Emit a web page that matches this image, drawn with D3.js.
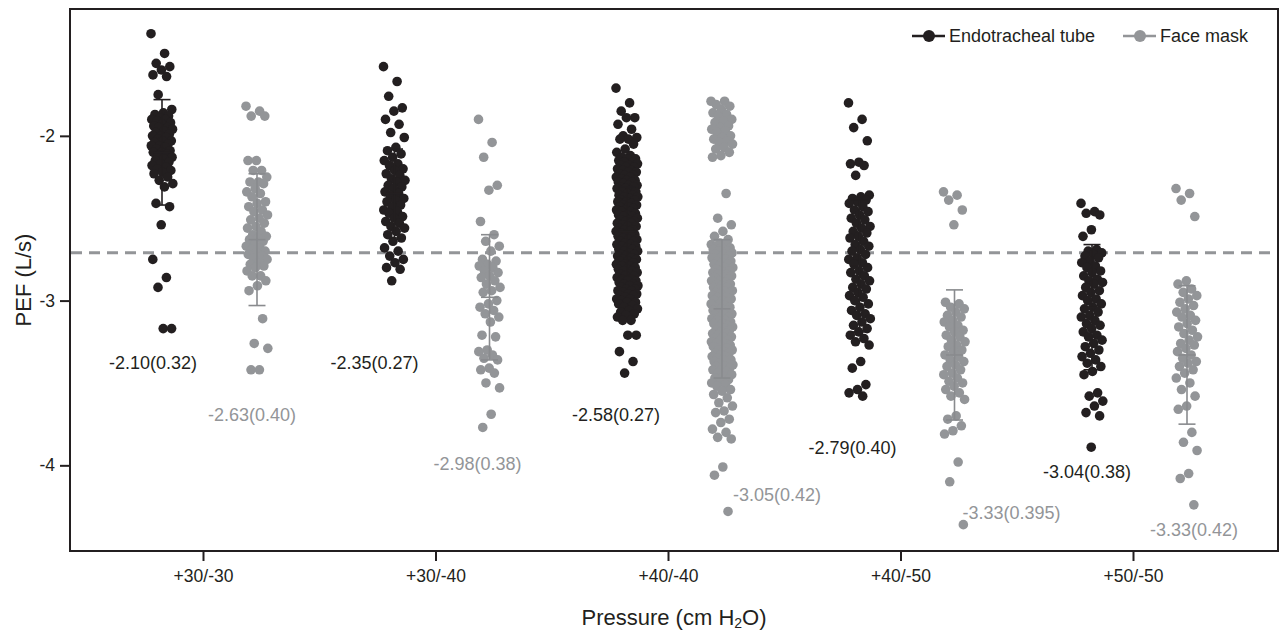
<!DOCTYPE html>
<html>
<head>
<meta charset="utf-8">
<script src="https://cdn.jsdelivr.net/npm/d3@7"></script>
<style>
  body { margin: 0; background: #fff; }
  text { font-family: "Liberation Sans", Arial, sans-serif; }
</style>
</head>
<body>
<div id="chart"></div>
<script>
// Categories and summary values
var pressures = ["+30/-30", "+30/-40", "+40/-40", "+40/-50", "+50/-50"];
var ettMean = [-2.10, -2.35, -2.58, -2.79, -3.04];
var ettSD = [0.32, 0.27, 0.27, 0.40, 0.38];
var fmMean = [-2.63, -2.98, -3.05, -3.33, -3.33];
var fmSD = [0.40, 0.38, 0.42, 0.395, 0.42];
var refLine = -2.71;

// Individual PEF values (L/s)
var ett3030 = [-1.38, -1.50, -1.56, -1.58, -1.60, -1.63, -1.64, -1.75,
  -1.84, -1.86, -1.87, -1.88, -1.89, -1.90, -1.90, -1.91, -1.92, -1.93, -1.94, -1.95, -1.95, -1.96,
  -1.97, -1.98, -1.99, -2.00, -2.00, -2.01, -2.02, -2.03, -2.03, -2.04, -2.05, -2.06, -2.06, -2.07,
  -2.08, -2.09, -2.10, -2.10, -2.11, -2.12, -2.13, -2.14, -2.15, -2.16, -2.17, -2.18, -2.19, -2.20,
  -2.21, -2.22, -2.23, -2.25, -2.27, -2.29, -2.31, -2.41, -2.43, -2.54, -2.75, -2.86, -2.92, -3.17, -3.17];
var fm3030 = [-1.82, -1.85, -1.88, -1.88, -2.15, -2.15, -2.21, -2.21, -2.25, -2.28, -2.28, -2.29,
  -2.32, -2.34, -2.35, -2.37, -2.40, -2.41, -2.43, -2.45, -2.46, -2.48, -2.50, -2.51, -2.53, -2.55,
  -2.56, -2.58, -2.60, -2.61, -2.62, -2.63, -2.64, -2.66, -2.67, -2.68, -2.69, -2.70, -2.71, -2.72,
  -2.73, -2.74, -2.75, -2.77, -2.78, -2.79, -2.80, -2.82, -2.85, -2.85, -2.88, -2.91, -2.94, -3.11,
  -3.26, -3.29, -3.42, -3.42];
var ett3040 = [-1.58, -1.67, -1.76, -1.83, -1.85, -1.90, -1.93, -1.98, -2.01,
  -2.07, -2.09, -2.11, -2.13, -2.15, -2.17, -2.18, -2.20, -2.21, -2.23, -2.24, -2.26, -2.27, -2.28,
  -2.30, -2.31, -2.32, -2.34, -2.35, -2.36, -2.38, -2.39, -2.40, -2.42, -2.43, -2.45, -2.46, -2.47,
  -2.49, -2.50, -2.52, -2.53, -2.55, -2.56, -2.58, -2.60, -2.62, -2.64,
  -2.68, -2.70, -2.73, -2.75, -2.77, -2.80, -2.81, -2.88];
var fm3040 = [-1.90, -2.04, -2.13, -2.30, -2.33, -2.52, -2.60, -2.64, -2.67, -2.70, -2.75, -2.76,
  -2.78, -2.79, -2.80, -2.82, -2.83, -2.85, -2.86, -2.88, -2.90, -2.92, -2.94, -2.95, -3.00, -3.02,
  -3.04, -3.06, -3.08, -3.10, -3.13, -3.21, -3.22, -3.30, -3.31, -3.33, -3.35, -3.36, -3.41, -3.42,
  -3.44, -3.50, -3.53, -3.69, -3.77];
var ett4040 = [-1.71, -1.80, -1.85, -1.89, -1.89, -1.93, -1.96, -2.00, -2.01, -2.02, -2.02, -2.05,
  -2.08, -2.10, -2.12,
  -2.13, -2.14, -2.14, -2.15, -2.16, -2.16, -2.17, -2.18, -2.18, -2.19, -2.19, -2.20, -2.21, -2.21, -2.22, -2.22, -2.23,
  -2.24, -2.24, -2.25, -2.25, -2.26, -2.27, -2.27, -2.28, -2.28, -2.29, -2.30, -2.30, -2.31, -2.31, -2.32, -2.32, -2.33,
  -2.34, -2.34, -2.35, -2.36, -2.36, -2.37, -2.37, -2.38, -2.39, -2.39, -2.40, -2.40, -2.41, -2.42, -2.42, -2.43, -2.43,
  -2.44, -2.45, -2.45, -2.46, -2.46, -2.47, -2.48, -2.48, -2.49, -2.49, -2.50, -2.51, -2.51, -2.52, -2.52, -2.53, -2.53,
  -2.54, -2.55, -2.55, -2.56, -2.57, -2.57, -2.58, -2.58, -2.59, -2.60, -2.60, -2.61, -2.61, -2.62, -2.63, -2.63, -2.64,
  -2.64, -2.65, -2.66, -2.66, -2.67, -2.67, -2.68, -2.69, -2.69, -2.70, -2.70, -2.71, -2.72, -2.72, -2.73, -2.73, -2.74,
  -2.75, -2.75, -2.76, -2.76, -2.77, -2.78, -2.78, -2.79, -2.79, -2.80, -2.81, -2.81, -2.82, -2.82, -2.83, -2.84, -2.84,
  -2.85, -2.85, -2.86, -2.87, -2.87, -2.88, -2.88, -2.89, -2.90, -2.90, -2.91, -2.91, -2.92, -2.93, -2.93, -2.94, -2.94,
  -2.95, -2.96, -2.96, -2.97, -2.97, -2.98, -2.99, -2.99, -3.00, -3.01, -3.01, -3.02, -3.03, -3.04, -3.05, -3.06, -3.07,
  -3.08, -3.09, -3.10, -3.12, -3.12, -3.21, -3.21, -3.31, -3.37, -3.44];
var fm4040 = [-1.79, -1.79, -1.81, -1.82, -1.84, -1.86, -1.87, -1.88, -1.90, -1.91, -1.92, -1.94,
  -1.95, -1.96, -1.97, -1.98, -2.00, -2.01, -2.02, -2.03, -2.04, -2.05, -2.07, -2.08, -2.10, -2.12, -2.13,
  -2.35, -2.50, -2.54, -2.58, -2.61, -2.63,
  -2.65, -2.66, -2.66, -2.67, -2.68, -2.68, -2.69, -2.70, -2.70, -2.71, -2.72, -2.72, -2.73, -2.74, -2.74, -2.75, -2.76,
  -2.76, -2.77, -2.78, -2.78, -2.79, -2.80, -2.80, -2.81, -2.82, -2.82, -2.83, -2.84, -2.84, -2.85, -2.86, -2.86, -2.87,
  -2.88, -2.88, -2.89, -2.90, -2.90, -2.91, -2.92, -2.92, -2.93, -2.94, -2.94, -2.95, -2.96, -2.96, -2.97, -2.98, -2.98,
  -2.99, -3.00, -3.00, -3.01, -3.02, -3.02, -3.03, -3.04, -3.04, -3.05, -3.06, -3.06, -3.07, -3.08, -3.08, -3.09, -3.10,
  -3.10, -3.11, -3.12, -3.12, -3.13, -3.14, -3.14, -3.15, -3.16, -3.16, -3.17, -3.18, -3.18, -3.19, -3.20, -3.20, -3.21,
  -3.22, -3.22, -3.23, -3.24, -3.24, -3.25, -3.26, -3.26, -3.27, -3.28, -3.28, -3.29, -3.30, -3.30, -3.31, -3.32, -3.32,
  -3.33, -3.34, -3.34, -3.35, -3.36, -3.36, -3.37, -3.38, -3.38, -3.39, -3.40, -3.40, -3.41, -3.42, -3.42, -3.43, -3.44,
  -3.45, -3.46, -3.47, -3.48, -3.49, -3.50, -3.51, -3.52, -3.54, -3.55, -3.57, -3.59,
  -3.62, -3.64, -3.67, -3.68, -3.72, -3.74, -3.78, -3.80, -3.83, -3.84, -4.01, -4.06, -4.28];
var ett4050 = [-1.80, -1.90, -1.95, -2.03, -2.16, -2.17, -2.18, -2.24, -2.36, -2.37, -2.38, -2.39,
  -2.40, -2.41, -2.43, -2.45, -2.46, -2.48, -2.50, -2.51, -2.53, -2.55, -2.56, -2.58, -2.59, -2.61,
  -2.62, -2.64, -2.66, -2.67, -2.69, -2.70, -2.72, -2.74, -2.75, -2.77, -2.78, -2.80, -2.82, -2.83,
  -2.85, -2.87, -2.88, -2.90, -2.92, -2.93, -2.95, -2.97, -2.98, -3.00, -3.02, -3.04, -3.06, -3.08,
  -3.09, -3.11, -3.13, -3.15, -3.17, -3.19, -3.21, -3.23, -3.25, -3.27,
  -3.37, -3.41, -3.51, -3.54, -3.56, -3.58];
var fm4050 = [-2.34, -2.36, -2.39, -2.45, -2.54,
  -3.01, -3.02, -3.04, -3.05, -3.07, -3.09, -3.10, -3.12, -3.13, -3.15, -3.16, -3.18, -3.19, -3.21,
  -3.22, -3.24, -3.25, -3.27, -3.28, -3.30, -3.31, -3.33, -3.34, -3.36, -3.37, -3.39, -3.40, -3.42,
  -3.44, -3.45, -3.47, -3.49, -3.50, -3.52, -3.54, -3.56, -3.58, -3.60,
  -3.70, -3.72, -3.76, -3.79, -3.81, -3.98, -4.10, -4.36];
var ett5050 = [-2.41, -2.46, -2.47, -2.48, -2.57, -2.61, -2.69, -2.70, -2.71, -2.72, -2.73, -2.74,
  -2.76, -2.77, -2.79, -2.80, -2.82, -2.83, -2.85, -2.87, -2.88, -2.89, -2.90, -2.92, -2.94, -2.95,
  -2.97, -2.99, -3.00, -3.02, -3.04, -3.05, -3.07, -3.09, -3.10, -3.12, -3.14, -3.15, -3.17, -3.19,
  -3.21, -3.22, -3.24, -3.26, -3.28, -3.30, -3.32, -3.34, -3.36, -3.38, -3.40, -3.43, -3.45,
  -3.56, -3.58, -3.61, -3.64, -3.68, -3.70, -3.89];
var fm5050 = [-2.32, -2.35, -2.39, -2.49, -2.88, -2.90, -2.93, -2.95,
  -2.97, -2.99, -3.01, -3.03, -3.05, -3.07, -3.09, -3.10, -3.12, -3.14, -3.16, -3.18, -3.20, -3.22,
  -3.24, -3.26, -3.27, -3.29, -3.31, -3.33, -3.35, -3.37, -3.38, -3.40, -3.42, -3.44, -3.47, -3.50,
  -3.54, -3.58, -3.64, -3.66, -3.80, -3.86, -3.91, -4.05, -4.08, -4.24];

var ettValues = [ett3030, ett3040, ett4040, ett4050, ett5050];
var fmValues = [fm3030, fm3040, fm4040, fm4050, fm5050];

// Where the mean(SD) notes sit (PEF units) and their shift from the strip (px)
var ettNoteAt = [-3.38, -3.38, -3.69, -3.89, -4.04];
var fmNoteAt = [-3.69, -3.99, -4.18, -4.29, -4.39];
var ettNoteDx = [-9, -20, -11, -7, -5];
var fmNoteDx = [-5, -12, 55, 57, 7];

var black = "#231f20";
var grey = "#939598";

var svgWidth = 1279;
var svgHeight = 633;
var frame = { left: 70, right: 1278, top: 9, bottom: 551 };

var svg = d3.select("#chart")
  .append("svg")
  .attr("width", svgWidth)
  .attr("height", svgHeight);

var xScale = d3.scalePoint()
  .domain(pressures)
  .range([203, 1133]);

var yScale = d3.scaleLinear()
  .domain([-4.52, -1.23])
  .range([frame.bottom, frame.top]);

var ettShift = -41;
var fmShift = 54;
var halfJitter = 11;

// spread points sideways in a fixed, even pattern
function jitter(i) {
  return (((i * 0.6180339887) % 1) - 0.5) * 2 * halfJitter;
}

// reference line (under the points)
svg.append("line")
  .attr("x1", frame.left + 1)
  .attr("x2", frame.right - 1)
  .attr("y1", yScale(refLine))
  .attr("y2", yScale(refLine))
  .attr("stroke", grey)
  .attr("stroke-width", 3)
  .attr("stroke-dasharray", "11,7");

function drawStrip(values, k, shift, colour) {
  var cx = xScale(pressures[k]) + shift;
  svg.append("g")
    .selectAll("circle")
    .data(values)
    .enter()
    .append("circle")
    .attr("cx", (d, i) => cx + jitter(i))
    .attr("cy", d => yScale(d))
    .attr("r", 4.8)
    .attr("fill", colour);
}

function drawBar(mean, sd, k, shift, colour) {
  var cx = xScale(pressures[k]) + shift;
  var g = svg.append("g")
    .attr("stroke", colour)
    .attr("stroke-width", 1.6);
  g.append("line")
    .attr("x1", cx).attr("x2", cx)
    .attr("y1", yScale(mean + sd)).attr("y2", yScale(mean - sd));
  [mean + sd, mean, mean - sd].forEach(function(v) {
    g.append("line")
      .attr("x1", cx - 8.5).attr("x2", cx + 8.5)
      .attr("y1", yScale(v)).attr("y2", yScale(v));
  });
}

function sdText(sd) {
  return Math.round(sd * 1000) % 10 ? sd.toFixed(3) : sd.toFixed(2);
}

pressures.forEach(function(p, k) {
  drawStrip(ettValues[k], k, ettShift, black);
  drawStrip(fmValues[k], k, fmShift, grey);
  drawBar(ettMean[k], ettSD[k], k, ettShift, black);
  drawBar(fmMean[k], fmSD[k], k, fmShift, "#898b8e");

  svg.append("text")
    .attr("x", xScale(p) + ettShift + ettNoteDx[k])
    .attr("y", yScale(ettNoteAt[k]))
    .attr("dy", "0.35em")
    .attr("text-anchor", "middle")
    .attr("font-size", "18px")
    .attr("fill", black)
    .text(ettMean[k].toFixed(2) + "(" + sdText(ettSD[k]) + ")");

  svg.append("text")
    .attr("x", xScale(p) + fmShift + fmNoteDx[k])
    .attr("y", yScale(fmNoteAt[k]))
    .attr("dy", "0.35em")
    .attr("text-anchor", "middle")
    .attr("font-size", "18px")
    .attr("fill", grey)
    .text(fmMean[k].toFixed(2) + "(" + sdText(fmSD[k]) + ")");
});

// frame
svg.append("rect")
  .attr("x", frame.left)
  .attr("y", frame.top)
  .attr("width", frame.right - frame.left)
  .attr("height", frame.bottom - frame.top)
  .attr("fill", "none")
  .attr("stroke", black)
  .attr("stroke-width", 2);

// axes
var leftAxis = d3.axisLeft(yScale)
  .tickValues([-2, -3, -4])
  .tickFormat(d => String(d))
  .tickSize(10)
  .tickPadding(5);

var bottomAxis = d3.axisBottom(xScale)
  .tickSize(10)
  .tickPadding(9);

var yAxisG = svg.append("g")
  .attr("transform", `translate(${frame.left}, 0)`)
  .call(leftAxis);

var xAxisG = svg.append("g")
  .attr("transform", `translate(0, ${frame.bottom})`)
  .call(bottomAxis);

[yAxisG, xAxisG].forEach(function(g) {
  g.select(".domain").remove();
  g.selectAll(".tick line").attr("stroke", black).attr("stroke-width", 2);
  g.selectAll(".tick text")
    .attr("fill", black)
    .attr("font-size", "17.5px")
    .attr("font-family", "'Liberation Sans', Arial, sans-serif");
});

// axis titles
svg.append("text")
  .attr("transform", `translate(23, ${(frame.top + frame.bottom) / 2}) rotate(-90)`)
  .attr("text-anchor", "middle")
  .attr("dy", "0.35em")
  .attr("font-size", "22px")
  .attr("fill", black)
  .text("PEF (L/s)");

var xTitle = svg.append("text")
  .attr("x", 674)
  .attr("y", 625)
  .attr("text-anchor", "middle")
  .attr("font-size", "22px")
  .attr("fill", black);
xTitle.append("tspan").text("Pressure (cm H");
xTitle.append("tspan").attr("font-size", "14px").attr("dy", 3).text("2");
xTitle.append("tspan").attr("dy", -3).text("O)");

// legend
var legendItems = [
  { name: "Endotracheal tube", colour: black, x: 912 },
  { name: "Face mask", colour: grey, x: 1123 }
];
var legend = svg.append("g");
legendItems.forEach(function(item) {
  legend.append("line")
    .attr("x1", item.x).attr("x2", item.x + 33)
    .attr("y1", 36).attr("y2", 36)
    .attr("stroke", item.colour)
    .attr("stroke-width", 2.5);
  legend.append("circle")
    .attr("cx", item.x + 17)
    .attr("cy", 36)
    .attr("r", 6)
    .attr("fill", item.colour);
  legend.append("text")
    .attr("x", item.x + 37)
    .attr("y", 36)
    .attr("dy", "0.35em")
    .attr("font-size", "18px")
    .attr("fill", black)
    .text(item.name);
});
</script>
</body>
</html>
